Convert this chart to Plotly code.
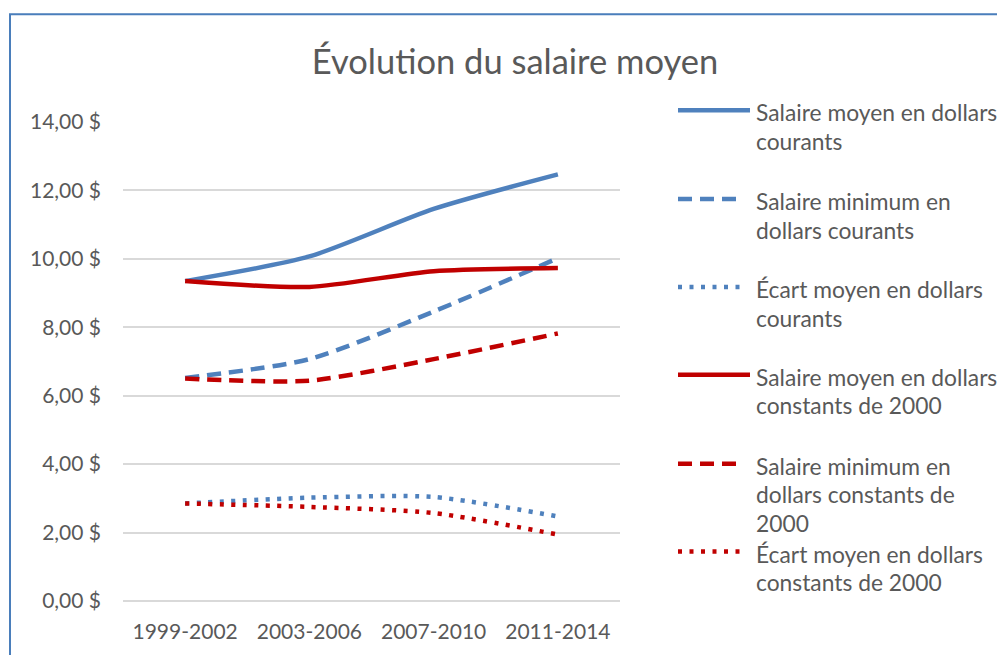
import plotly.graph_objects as go

# ---------------- data ----------------
periods = ["1999-2002", "2003-2006", "2007-2010", "2011-2014"]

salaire_moyen_courant = [9.35, 10.07, 11.46, 12.47]
salaire_min_courant = [6.52, 7.07, 8.46, 10.02]
ecart_courant = [2.85, 3.02, 3.04, 2.47]
salaire_moyen_constant = [9.35, 9.18, 9.64, 9.73]
salaire_min_constant = [6.50, 6.44, 7.07, 7.82]
ecart_constant = [2.85, 2.75, 2.57, 1.94]

y_tick_values = [0, 2, 4, 6, 8, 10, 12, 14]
y_tick_labels = ["0,00 $", "2,00 $", "4,00 $", "6,00 $", "8,00 $",
                 "10,00 $", "12,00 $", "14,00 $"]

series_names = [
    "Salaire moyen en dollars courants",
    "Salaire minimum en dollars courants",
    "Écart moyen en dollars courants",
    "Salaire moyen en dollars constants de 2000",
    "Salaire minimum en dollars constants de 2000",
    "Écart moyen en dollars constants de 2000",
]
legend_lines = [
    ["Salaire moyen en dollars", "courants"],
    ["Salaire minimum en", "dollars courants"],
    ["Écart moyen en dollars", "courants"],
    ["Salaire moyen en dollars", "constants de 2000"],
    ["Salaire minimum en", "dollars constants de", "2000"],
    ["Écart moyen en dollars", "constants de 2000"],
]
series_values = [
    salaire_moyen_courant, salaire_min_courant, ecart_courant,
    salaire_moyen_constant, salaire_min_constant, ecart_constant,
]

BLUE = "#4F81BD"
RED = "#C00000"
colors = [BLUE, BLUE, BLUE, RED, RED, RED]
dashes = ["solid", "14px,8px", "4px,7.5px", "solid", "14px,8px", "4px,7.5px"]

# ---------------- layout geometry (window pixels) ----------------
W, H = 1005, 663
OFF = 8  # page body margin
L, R, T, B = 123, 620, 122, 607
FONT = "Lato, 'Open Sans', sans-serif"
TXT = "#595959"
FW, FH = W - 2 * OFF, H - 2 * OFF


def px_x(x):
    return (x - L) / (R - L)


def px_y(y):
    return (B - y) / (B - T)


fig = go.Figure()
for name, vals, c, d in zip(series_names, series_values, colors, dashes):
    fig.add_trace(go.Scatter(
        x=periods, y=vals, name=name, mode="lines",
        line=dict(color=c, width=4.5, dash=d, shape="spline", smoothing=0.7),
        showlegend=False,
    ))

# manual legend (Excel style: long symbol, wrapped text)
legend_y = [110, 200, 289, 378, 468, 557]
shapes = []
annotations = []
for lines, c, d, yc in zip(legend_lines, colors, dashes, legend_y):
    x_end = 750 if d == "solid" else 743
    shapes.append(dict(
        type="line", xref="paper", yref="paper",
        x0=px_x(678), x1=px_x(x_end), y0=px_y(yc), y1=px_y(yc),
        line=dict(color=c, width=4.5, dash=d),
    ))
    for j, t in enumerate(lines):
        annotations.append(dict(
            text=t, xref="paper", yref="paper",
            x=px_x(754), y=px_y(yc + 2 + j * 29),
            xanchor="left", yanchor="middle", showarrow=False,
            font=dict(family=FONT, size=22.8, color=TXT),
        ))

# chart border
shapes.append(dict(
    type="rect", xref="paper", yref="paper",
    x0=px_x(10), x1=px_x(1100), y0=px_y(700), y1=px_y(13),
    line=dict(color="#4A7EBB", width=2), fillcolor="rgba(0,0,0,0)",
    layer="below",
))

fig.update_layout(
    width=FW, height=FH,
    margin=dict(l=L - OFF, r=FW - (R - OFF), t=T - OFF, b=FH - (B - OFF)),
    paper_bgcolor="white", plot_bgcolor="white",
    title=dict(
        text="Évolution du salaire moyen",
        x=(515 - OFF) / FW, xanchor="center",
        y=1 - (62 - OFF) / FH, yanchor="middle",
        font=dict(family=FONT, size=34.5, color=TXT),
    ),
    xaxis=dict(
        type="category", range=[-0.5, 3.5],
        showgrid=False, showline=False, zeroline=False,
        ticks="", tickfont=dict(family=FONT, size=21, color=TXT),
        ticklabelstandoff=16,
    ),
    yaxis=dict(
        range=[0, 14], tickvals=y_tick_values, ticktext=y_tick_labels,
        showgrid=True, gridcolor="#D9D9D9", gridwidth=1.5,
        zeroline=True, zerolinecolor="#D9D9D9", zerolinewidth=1.5,
        showline=False, ticks="",
        tickfont=dict(family=FONT, size=21, color=TXT),
        ticklabelstandoff=21,
    ),
    shapes=shapes,
    annotations=annotations,
    showlegend=False,
)

fig.write_html("out.html")
